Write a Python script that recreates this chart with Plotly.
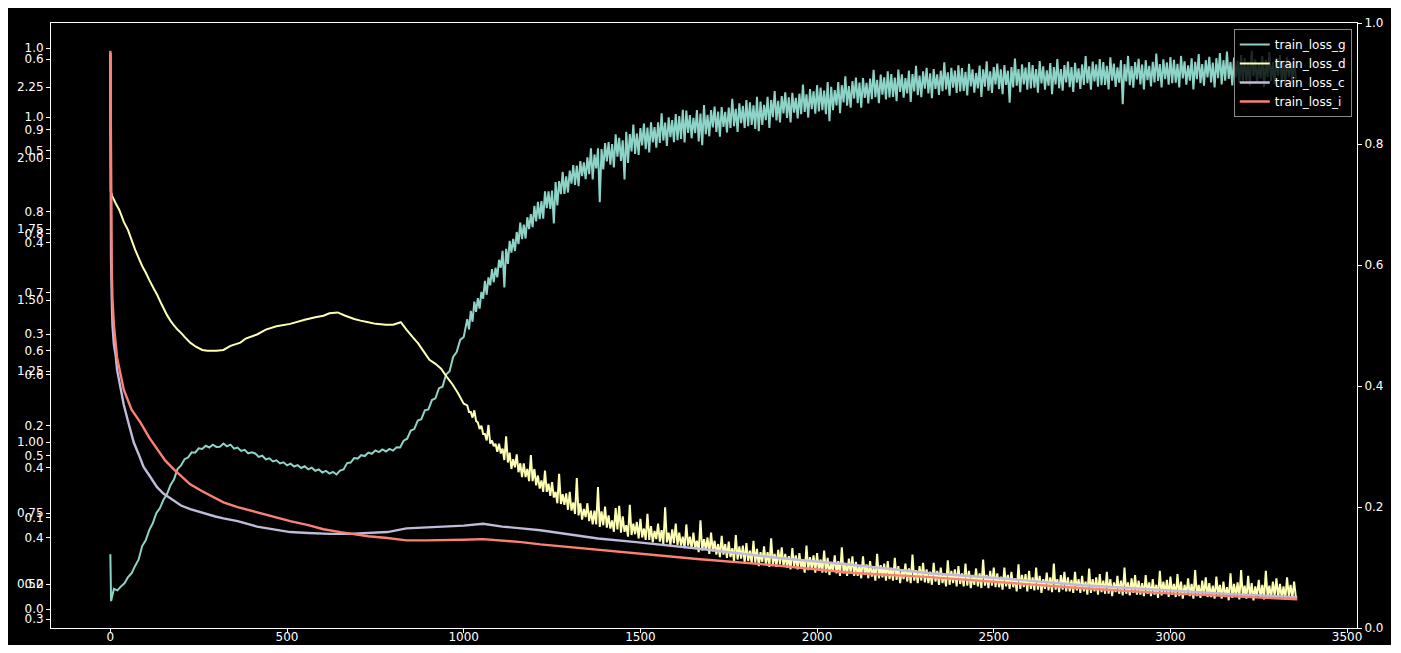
import plotly.graph_objects as go

# ---------------- data ----------------
# train_loss_g (left axis A) -- early part, one sample every 10 steps
g_x_early = [0, 2] + list(range(10, 1010, 10))
g_y_early = [0.605, 0.440,
             0.483, 0.478, 0.492, 0.503, 0.525, 0.538, 0.564, 0.587, 0.634, 0.654,
             0.690, 0.714, 0.750, 0.767, 0.796, 0.816, 0.848, 0.868, 0.905, 0.918,
             0.940, 0.946, 0.964, 0.963, 0.978, 0.976, 0.987, 0.981, 0.991, 0.983,
             0.984, 0.995, 0.985, 0.991, 0.977, 0.981, 0.969, 0.973, 0.960, 0.964,
             0.960, 0.948, 0.952, 0.939, 0.943, 0.932, 0.936, 0.925, 0.929, 0.918,
             0.924, 0.914, 0.919, 0.909, 0.915, 0.904, 0.910, 0.899, 0.904, 0.893,
             0.899, 0.889, 0.895, 0.886, 0.900, 0.904, 0.926, 0.928, 0.944, 0.942,
             0.954, 0.951, 0.963, 0.959, 0.971, 0.965, 0.974, 0.967, 0.976, 0.970,
             0.982, 0.981, 1.005, 1.012, 1.041, 1.046, 1.076, 1.081, 1.112, 1.115,
             1.148, 1.154, 1.190, 1.195, 1.238, 1.250, 1.300, 1.317, 1.360, 1.370]
# noisy part: band tops (at steps 1010, 1020, ...) and band bottoms (at 1015, 1025, ...)
g_hi_x = list(range(1010, 3360, 10))
g_hi = [1.433, 1.462, 1.495, 1.507, 1.529, 1.568, 1.580, 1.609, 1.614, 1.642,
        1.674, 1.681, 1.709, 1.716, 1.740, 1.773, 1.766, 1.792, 1.803, 1.832,
        1.846, 1.849, 1.883, 1.883, 1.886, 1.916, 1.919, 1.952, 1.936, 1.956,
        1.976, 1.974, 1.990, 1.985, 2.003, 2.035, 2.013, 2.035, 2.032, 2.053,
        2.057, 2.050, 2.084, 2.072, 2.063, 2.093, 2.085, 2.118, 2.087, 2.106,
        2.122, 2.108, 2.126, 2.109, 2.126, 2.158, 2.125, 2.144, 2.134, 2.155,
        2.148, 2.170, 2.168, 2.152, 2.142, 2.169, 2.157, 2.187, 2.153, 2.169,
        2.182, 2.164, 2.180, 2.163, 2.178, 2.209, 2.174, 2.193, 2.184, 2.205,
        2.197, 2.186, 2.216, 2.199, 2.188, 2.216, 2.205, 2.236, 2.202, 2.219,
        2.232, 2.214, 2.230, 2.212, 2.227, 2.259, 2.225, 2.243, 2.235, 2.257,
        2.249, 2.238, 2.268, 2.251, 2.240, 2.268, 2.257, 2.288, 2.254, 2.271,
        2.284, 2.266, 2.282, 2.265, 2.280, 2.311, 2.276, 2.294, 2.285, 2.306,
        2.296, 2.284, 2.312, 2.295, 2.282, 2.308, 2.296, 2.325, 2.291, 2.306,
        2.318, 2.299, 2.314, 2.295, 2.308, 2.338, 2.302, 2.318, 2.308, 2.327,
        2.317, 2.304, 2.332, 2.313, 2.300, 2.326, 2.313, 2.341, 2.306, 2.321,
        2.333, 2.313, 2.328, 2.308, 2.321, 2.351, 2.314, 2.330, 2.319, 2.338,
        2.328, 2.314, 2.342, 2.323, 2.309, 2.335, 2.321, 2.349, 2.314, 2.328,
        2.340, 2.321, 2.336, 2.316, 2.330, 2.360, 2.323, 2.340, 2.330, 2.349,
        2.338, 2.325, 2.355, 2.333, 2.320, 2.345, 2.331, 2.360, 2.324, 2.338,
        2.350, 2.330, 2.345, 2.325, 2.339, 2.368, 2.331, 2.348, 2.337, 2.356,
        2.346, 2.332, 2.360, 2.341, 2.327, 2.352, 2.339, 2.367, 2.331, 2.345,
        2.357, 2.337, 2.352, 2.370, 2.345, 2.375, 2.338, 2.354, 2.344, 2.363,
        2.353, 2.339, 2.379, 2.348, 2.334, 2.360, 2.346, 2.374, 2.338, 2.352,
        2.363, 2.343, 2.357, 2.337, 2.350]
g_lo_x = list(range(1015, 3365, 10))
g_lo = [1.397, 1.424, 1.459, 1.470, 1.505, 1.519, 1.552, 1.563, 1.580, 1.614,
        1.545, 1.628, 1.667, 1.673, 1.697, 1.715, 1.717, 1.750, 1.757, 1.777,
        1.785, 1.787, 1.824, 1.821, 1.770, 1.834, 1.873, 1.874, 1.879, 1.910,
        1.906, 1.901, 1.937, 1.926, 1.944, 1.925, 1.964, 1.845, 1.960, 1.989,
        1.977, 1.967, 2.005, 1.990, 1.925, 1.983, 2.024, 2.015, 2.011, 2.045,
        2.032, 2.020, 2.056, 2.037, 2.054, 2.062, 2.043, 2.074, 2.056, 2.063,
        2.068, 2.055, 2.089, 2.070, 2.088, 2.059, 2.046, 2.084, 2.077, 2.108,
        2.092, 2.076, 2.110, 2.091, 2.106, 2.113, 2.092, 2.123, 2.106, 2.113,
        2.117, 2.103, 2.095, 2.117, 2.134, 2.106, 2.144, 2.133, 2.126, 2.158,
        2.142, 2.126, 2.160, 2.140, 2.155, 2.163, 2.143, 2.173, 2.157, 2.165,
        2.169, 2.155, 2.130, 2.169, 2.186, 2.158, 2.196, 2.185, 2.178, 2.210,
        2.194, 2.178, 2.212, 2.193, 2.208, 2.215, 2.194, 2.224, 2.207, 2.214,
        2.216, 2.201, 2.233, 2.213, 2.228, 2.198, 2.235, 2.222, 2.215, 2.245,
        2.228, 2.211, 2.244, 2.223, 2.236, 2.242, 2.220, 2.248, 2.230, 2.235,
        2.237, 2.221, 2.253, 2.231, 2.246, 2.216, 2.252, 2.238, 2.230, 2.260,
        2.243, 2.225, 2.258, 2.195, 2.249, 2.255, 2.232, 2.260, 2.241, 2.246,
        2.248, 2.231, 2.263, 2.241, 2.255, 2.225, 2.260, 2.246, 2.238, 2.267,
        2.250, 2.233, 2.266, 2.244, 2.258, 2.264, 2.241, 2.270, 2.252, 2.257,
        2.258, 2.242, 2.273, 2.251, 2.266, 2.190, 2.270, 2.257, 2.248, 2.277,
        2.260, 2.242, 2.275, 2.253, 2.267, 2.272, 2.249, 2.278, 2.259, 2.264,
        2.266, 2.249, 2.281, 2.259, 2.273, 2.242, 2.278, 2.264, 2.255, 2.284,
        2.267, 2.249, 2.282, 2.260, 2.273, 2.279, 2.256, 2.284, 2.266, 2.271,
        2.273, 2.256, 2.288, 2.266, 2.280, 2.250, 2.285, 2.271, 2.262, 2.291,
        2.273, 2.255, 2.287, 2.265, 2.278]

# train_loss_d (left axis B)
d_x_early = [0, 1, 5, 15, 25, 38, 50, 60, 70, 80,
             90, 100, 110, 123, 132, 145, 160, 170, 180, 190,
             200, 210, 226, 242, 260, 275, 300, 320, 340, 368,
             383, 415, 440, 470, 509, 550, 580, 603, 620, 643,
             665, 690, 708, 730, 751, 780, 800, 822, 838, 855,
             871, 887, 903, 920, 936, 952, 968, 984, 1000]
d_y_early = [0.994, 0.825, 0.819, 0.810, 0.802, 0.787, 0.777, 0.765, 0.753, 0.743,
             0.733, 0.725, 0.716, 0.705, 0.698, 0.686, 0.673, 0.666, 0.660, 0.655,
             0.651, 0.646, 0.639, 0.634, 0.630, 0.629, 0.629, 0.630, 0.635, 0.639,
             0.644, 0.649, 0.655, 0.659, 0.662, 0.667, 0.670, 0.672, 0.675, 0.676,
             0.672, 0.668, 0.666, 0.664, 0.662, 0.661, 0.661, 0.664, 0.655, 0.646,
             0.638, 0.628, 0.618, 0.613, 0.607, 0.597, 0.588, 0.577, 0.564]
d_hi_x = list(range(1010, 3360, 10))
d_hi = [0.562, 0.554, 0.556, 0.541, 0.537, 0.527, 0.538, 0.519, 0.515, 0.515,
        0.509, 0.524, 0.504, 0.496, 0.502, 0.491, 0.491, 0.484, 0.501, 0.484,
        0.476, 0.470, 0.482, 0.466, 0.468, 0.456, 0.478, 0.453, 0.454, 0.456,
        0.443, 0.473, 0.442, 0.435, 0.442, 0.433, 0.433, 0.462, 0.432, 0.438,
        0.427, 0.421, 0.436, 0.439, 0.426, 0.415, 0.440, 0.417, 0.419, 0.423,
        0.411, 0.429, 0.414, 0.408, 0.417, 0.409, 0.437, 0.406, 0.410, 0.417,
        0.406, 0.401, 0.416, 0.401, 0.406, 0.396, 0.421, 0.398, 0.400, 0.406,
        0.396, 0.392, 0.402, 0.392, 0.395, 0.387, 0.403, 0.389, 0.390, 0.393,
        0.384, 0.396, 0.386, 0.382, 0.389, 0.382, 0.399, 0.380, 0.385, 0.388,
        0.380, 0.377, 0.387, 0.378, 0.381, 0.373, 0.390, 0.376, 0.378, 0.381,
        0.373, 0.384, 0.375, 0.370, 0.378, 0.371, 0.388, 0.369, 0.374, 0.377,
        0.370, 0.366, 0.377, 0.367, 0.371, 0.363, 0.380, 0.366, 0.368, 0.371,
        0.363, 0.375, 0.365, 0.361, 0.368, 0.362, 0.379, 0.360, 0.365, 0.369,
        0.361, 0.358, 0.369, 0.359, 0.363, 0.356, 0.372, 0.359, 0.361, 0.365,
        0.356, 0.368, 0.359, 0.354, 0.362, 0.356, 0.373, 0.354, 0.359, 0.363,
        0.356, 0.352, 0.363, 0.354, 0.358, 0.350, 0.367, 0.354, 0.355, 0.359,
        0.351, 0.363, 0.353, 0.349, 0.357, 0.351, 0.368, 0.349, 0.354, 0.358,
        0.351, 0.348, 0.358, 0.349, 0.353, 0.346, 0.362, 0.349, 0.351, 0.355,
        0.347, 0.358, 0.349, 0.345, 0.353, 0.347, 0.363, 0.345, 0.350, 0.354,
        0.347, 0.344, 0.354, 0.345, 0.349, 0.342, 0.359, 0.346, 0.348, 0.352,
        0.343, 0.355, 0.346, 0.342, 0.350, 0.343, 0.360, 0.342, 0.347, 0.351,
        0.344, 0.341, 0.352, 0.342, 0.346, 0.339, 0.356, 0.343, 0.345, 0.360,
        0.341, 0.353, 0.344, 0.340, 0.348, 0.342, 0.359, 0.341, 0.346, 0.350,
        0.343, 0.340, 0.351, 0.342, 0.346]
d_lo_x = list(range(1015, 3365, 10))
d_lo = [0.554, 0.547, 0.543, 0.533, 0.527, 0.519, 0.515, 0.512, 0.505, 0.503,
        0.495, 0.492, 0.484, 0.486, 0.480, 0.474, 0.474, 0.469, 0.469, 0.464,
        0.460, 0.456, 0.456, 0.451, 0.449, 0.442, 0.441, 0.440, 0.434, 0.433,
        0.429, 0.427, 0.422, 0.425, 0.420, 0.416, 0.416, 0.413, 0.415, 0.412,
        0.411, 0.407, 0.410, 0.406, 0.407, 0.401, 0.403, 0.404, 0.399, 0.400,
        0.397, 0.397, 0.394, 0.398, 0.395, 0.392, 0.394, 0.391, 0.393, 0.391,
        0.390, 0.387, 0.390, 0.386, 0.387, 0.382, 0.384, 0.385, 0.380, 0.383,
        0.379, 0.376, 0.379, 0.375, 0.376, 0.371, 0.373, 0.374, 0.369, 0.371,
        0.368, 0.369, 0.365, 0.370, 0.367, 0.364, 0.367, 0.364, 0.367, 0.364,
        0.363, 0.361, 0.364, 0.361, 0.362, 0.357, 0.360, 0.361, 0.357, 0.359,
        0.357, 0.357, 0.354, 0.358, 0.356, 0.353, 0.356, 0.353, 0.356, 0.353,
        0.353, 0.350, 0.354, 0.350, 0.352, 0.347, 0.350, 0.351, 0.347, 0.349,
        0.347, 0.348, 0.344, 0.349, 0.346, 0.344, 0.347, 0.344, 0.347, 0.345,
        0.344, 0.342, 0.346, 0.342, 0.344, 0.340, 0.342, 0.344, 0.340, 0.343,
        0.340, 0.341, 0.338, 0.342, 0.340, 0.338, 0.341, 0.338, 0.341, 0.339,
        0.339, 0.336, 0.340, 0.337, 0.339, 0.334, 0.337, 0.339, 0.334, 0.337,
        0.335, 0.336, 0.332, 0.337, 0.335, 0.333, 0.336, 0.333, 0.336, 0.334,
        0.334, 0.332, 0.335, 0.332, 0.334, 0.330, 0.332, 0.334, 0.330, 0.333,
        0.331, 0.331, 0.328, 0.333, 0.331, 0.329, 0.331, 0.329, 0.332, 0.330,
        0.330, 0.328, 0.331, 0.328, 0.330, 0.326, 0.329, 0.331, 0.327, 0.330,
        0.327, 0.328, 0.325, 0.330, 0.328, 0.325, 0.328, 0.326, 0.329, 0.327,
        0.327, 0.325, 0.329, 0.325, 0.327, 0.323, 0.326, 0.328, 0.324, 0.327,
        0.325, 0.326, 0.323, 0.328, 0.326, 0.324, 0.327, 0.325, 0.328, 0.326,
        0.326, 0.324, 0.328, 0.325, 0.327]

# train_loss_c (left axis C)
c_x = [0, 1, 2, 4, 6, 10, 15, 19, 26, 38,
       50, 66, 80, 94, 110, 132, 150, 179, 200, 226,
       260, 297, 320, 360, 415, 459, 509, 560, 621, 676,
       730, 784, 838, 892, 946, 1000, 1055, 1109, 1163, 1217,
       1271, 1380, 1488, 1596, 1661, 1886, 2103, 2319, 2536, 2752,
       2969, 3186, 3359]
c_y = [0.607, 0.446, 0.381, 0.338, 0.310, 0.289, 0.277, 0.261, 0.248, 0.223,
       0.205, 0.182, 0.169, 0.155, 0.146, 0.133, 0.126, 0.118, 0.113, 0.109,
       0.105, 0.101, 0.099, 0.096, 0.090, 0.087, 0.084, 0.083, 0.082, 0.082,
       0.083, 0.084, 0.088, 0.089, 0.090, 0.091, 0.093, 0.090, 0.088, 0.086,
       0.083, 0.077, 0.073, 0.069, 0.066, 0.056, 0.048, 0.039, 0.033, 0.026,
       0.021, 0.016, 0.013]

# train_loss_i (left axis D)
i_x = [0, 1, 2, 4, 6, 10, 19, 38, 60, 85,
       110, 132, 155, 179, 200, 226, 260, 320, 360, 415,
       460, 509, 560, 603, 651, 700, 730, 784, 838, 892,
       946, 1000, 1055, 1109, 1163, 1217, 1271, 1325, 1380, 1434,
       1488, 1542, 1596, 1661, 1886, 2103, 2319, 2536, 2752, 2969,
       3186, 3359]
i_y = [1.114, 0.943, 0.832, 0.738, 0.687, 0.644, 0.588, 0.533, 0.499, 0.477,
       0.451, 0.431, 0.412, 0.397, 0.385, 0.371, 0.359, 0.340, 0.332, 0.323,
       0.315, 0.308, 0.301, 0.294, 0.289, 0.284, 0.282, 0.279, 0.275, 0.275,
       0.275, 0.276, 0.277, 0.275, 0.272, 0.268, 0.265, 0.262, 0.258, 0.255,
       0.253, 0.250, 0.246, 0.243, 0.232, 0.219, 0.212, 0.202, 0.193, 0.185,
       0.179, 0.174]

series_names = ["train_loss_g", "train_loss_d", "train_loss_c", "train_loss_i"]

x_ticks = [0, 500, 1000, 1500, 2000, 2500, 3000, 3500]
ticks_a = [0.50, 0.75, 1.00, 1.25, 1.50, 1.75, 2.00, 2.25]
ticks_b = [0.3, 0.4, 0.5, 0.6, 0.7, 0.8, 0.9, 1.0]
ticks_c = [0.0, 0.1, 0.2, 0.3, 0.4, 0.5, 0.6]
ticks_d = [0.2, 0.4, 0.6, 0.8, 1.0]
ticks_r = [0.0, 0.2, 0.4, 0.6, 0.8, 1.0]


def merge(xa, ya, xb, yb):
    """Put two sample lists on one step-ordered list."""
    pts = sorted(zip(list(xa) + list(xb), list(ya) + list(yb)))
    return [p[0] for p in pts], [p[1] for p in pts]


g_late_x, g_late_y = merge(g_hi_x, g_hi, g_lo_x, g_lo)
d_late_x, d_late_y = merge(d_hi_x, d_hi, d_lo_x, d_lo)

# ---------------- figure ----------------
FONT = "DejaVu Sans"
colors = ["#8dd3c7", "#feffb3", "#bfbbd9", "#fa8174"]

fig = go.Figure()
fig.add_trace(go.Scatter(x=g_x_early + g_late_x, y=g_y_early + g_late_y,
                         name=series_names[0], mode="lines",
                         line=dict(color=colors[0], width=2.0, simplify=False),
                         yaxis="y"))
fig.add_trace(go.Scatter(x=d_x_early + d_late_x, y=d_y_early + d_late_y,
                         name=series_names[1], mode="lines",
                         line=dict(color=colors[1], width=2.0, simplify=False),
                         yaxis="y2"))
fig.add_trace(go.Scatter(x=c_x, y=c_y, name=series_names[2], mode="lines",
                         line=dict(color=colors[2], width=2.4), yaxis="y3"))
fig.add_trace(go.Scatter(x=i_x, y=i_y, name=series_names[3], mode="lines",
                         line=dict(color=colors[3], width=2.4), yaxis="y4"))
fig.add_trace(go.Scatter(x=[None], y=[None], yaxis="y5", showlegend=False,
                         hoverinfo="skip", mode="lines"))

tick_font = dict(color="white", size=12, family=FONT)
common = dict(showgrid=False, zeroline=False, showline=True, linecolor="white",
              linewidth=1, ticks="outside", ticklen=4, tickwidth=1,
              tickcolor="white", tickfont=tick_font, fixedrange=True)

fig.update_layout(
    template="none",
    width=1383, height=637,
    margin=dict(l=43, r=34, t=15, b=17, pad=0),
    paper_bgcolor="black", plot_bgcolor="black",
    font=dict(family=FONT, color="white", size=12),
    showlegend=True,
    legend=dict(x=0.996, y=0.99, xanchor="right", yanchor="top",
                bgcolor="rgba(0,0,0,0.8)", bordercolor="#8a8a8a", borderwidth=1,
                font=dict(color="white", size=12, family=FONT),
                tracegroupgap=0),
    xaxis=dict(common, range=[-168, 3528], tickvals=x_ticks, mirror=True,
               ticklabelstandoff=-6),
    yaxis=dict(common, range=[0.3454, 2.476], tickvals=ticks_a, tickformat=".2f"),
    yaxis2=dict(common, range=[0.289, 1.031], tickvals=ticks_b, tickformat=".1f",
                overlaying="y", side="left", anchor="x"),
    yaxis3=dict(common, range=[-0.0207, 0.6396], tickvals=ticks_c, tickformat=".1f",
                overlaying="y", side="left", anchor="x"),
    yaxis4=dict(common, range=[0.1248, 1.1614], tickvals=ticks_d, tickformat=".1f",
                overlaying="y", side="left", anchor="x"),
    yaxis5=dict(common, range=[0, 1], tickvals=ticks_r, tickformat=".1f",
                overlaying="y", side="right", anchor="x"),
    hovermode=False,
)

fig.write_html("out.html")
